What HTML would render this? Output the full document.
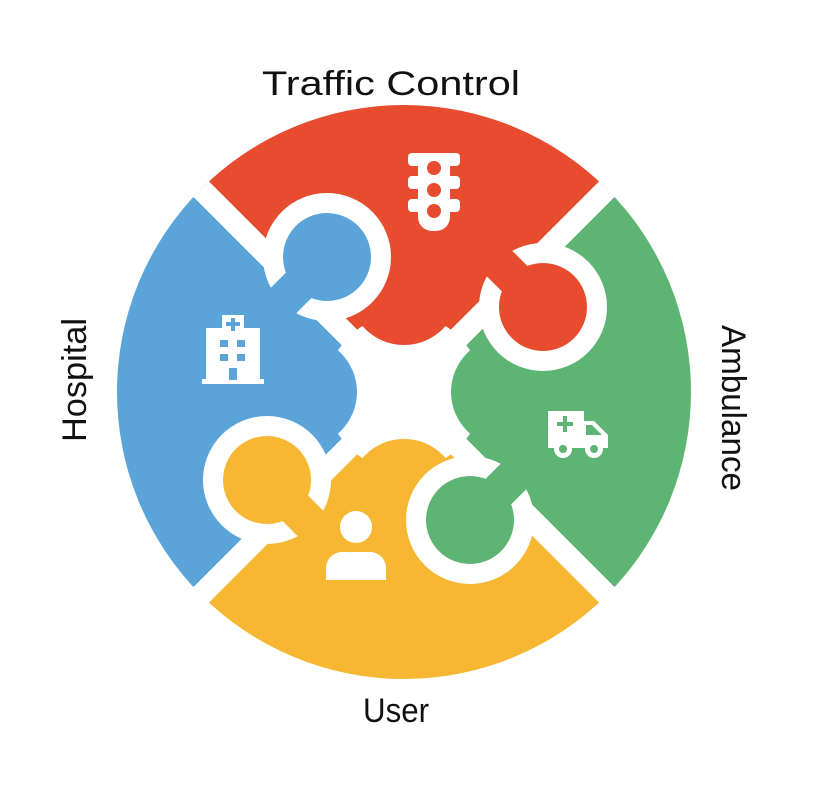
<!DOCTYPE html>
<html><head><style>html,body{margin:0;padding:0;background:#fff}svg{display:block}</style></head>
<body>
<svg width="838" height="787" viewBox="0 0 838 787" xmlns="http://www.w3.org/2000/svg">
<defs><clipPath id="c"><circle cx="404" cy="392" r="287"/></clipPath></defs>
<g clip-path="url(#c)">
  <polygon points="404,392 0,-12 808,-12" fill="#E84C2F"/>
  <polygon points="404,392 808,-12 808,796" fill="#5EB573"/>
  <polygon points="404,392 808,796 0,796" fill="#F7B733"/>
  <polygon points="404,392 0,796 0,-12" fill="#5BA4D9"/>
  <g stroke="#fff" stroke-width="22">
    <line x1="0" y1="-12" x2="808" y2="796"/>
    <line x1="808" y1="-12" x2="0" y2="796"/>
  </g>
  <circle cx="404" cy="392" r="78" fill="#fff"/>
  <circle cx="404" cy="290" r="55" fill="#E84C2F"/>
  <circle cx="302" cy="392" r="55" fill="#5BA4D9"/>
  <circle cx="506" cy="392" r="55" fill="#5EB573"/>
  <circle cx="404" cy="494" r="55" fill="#F7B733"/>
  <!-- white knob surrounds -->
  <g fill="#fff" stroke="#fff" stroke-width="74">
    <circle cx="327" cy="257" r="64" stroke="none"/>
    <line x1="327" y1="257" x2="292" y2="292"/>
    <circle cx="543" cy="307" r="64" stroke="none"/>
    <line x1="543" y1="307" x2="510" y2="274"/>
    <circle cx="470" cy="520" r="64" stroke="none"/>
    <line x1="470" y1="520" x2="505" y2="485"/>
    <circle cx="267" cy="480" r="64" stroke="none"/>
    <line x1="267" y1="480" x2="300" y2="513"/>
  </g>
  <!-- knobs -->
  <g stroke-width="36">
    <circle cx="327" cy="257" r="44" fill="#5BA4D9"/>
    <line x1="327" y1="257" x2="270" y2="314" stroke="#5BA4D9"/>
    <circle cx="543" cy="307" r="44" fill="#E84C2F"/>
    <line x1="543" y1="307" x2="488" y2="252" stroke="#E84C2F"/>
    <circle cx="470" cy="520" r="44" fill="#5EB573"/>
    <line x1="470" y1="520" x2="527" y2="463" stroke="#5EB573"/>
    <circle cx="267" cy="480" r="44" fill="#F7B733"/>
    <line x1="267" y1="480" x2="322" y2="535" stroke="#F7B733"/>
  </g>
</g>
<!-- traffic light -->
<g fill="#fff">
  <rect x="418" y="153" width="32" height="78" rx="14"/>
  <rect x="408" y="153" width="52" height="13" rx="4"/>
  <rect x="408" y="176" width="52" height="13" rx="4"/>
  <rect x="408" y="199" width="52" height="13" rx="4"/>
</g>
<g fill="#E84C2F"><circle cx="434" cy="168" r="7"/><circle cx="434" cy="190" r="7"/><circle cx="434" cy="211" r="7"/></g>
<!-- hospital -->
<g fill="#fff">
  <rect x="222" y="315" width="22" height="20"/>
  <rect x="206" y="328" width="54" height="52"/>
  <rect x="202" y="379" width="62" height="5"/>
</g>
<g fill="#5BA4D9">
  <rect x="231" y="318" width="4" height="13"/><rect x="226" y="322" width="14" height="4"/>
  <rect x="220" y="340" width="8" height="7"/><rect x="237" y="340" width="8" height="7"/>
  <rect x="220" y="354" width="8" height="7"/><rect x="237" y="354" width="8" height="7"/>
  <rect x="229" y="368" width="8" height="12"/>
</g>
<!-- ambulance -->
<g fill="#fff">
  <path d="M548 411 h36 v10 h10 l14 14 v13 h-60 z"/>
  <circle cx="563" cy="449" r="9"/><circle cx="594" cy="449" r="9"/>
</g>
<g fill="#5EB573">
  <rect x="563" y="416" width="4" height="16"/><rect x="557" y="422" width="16" height="4"/>
  <path d="M586 425 h6 l10 10 h-16 z"/>
  <circle cx="563" cy="449" r="4"/><circle cx="594" cy="449" r="4"/>
</g>
<!-- user -->
<g fill="#fff">
  <circle cx="356" cy="527" r="16"/>
  <path d="M326 580 v-12 a16 16 0 0 1 16 -16 h28 a16 16 0 0 1 16 16 v12 z"/>
</g>
<g font-family="'Liberation Sans', sans-serif" font-size="34" fill="#111" font-weight="normal">
  <text x="262" y="95" textLength="258" lengthAdjust="spacingAndGlyphs">Traffic Control</text>
  <text x="363" y="722" textLength="66" lengthAdjust="spacingAndGlyphs">User</text>
  <text transform="translate(86,442) rotate(-90)" textLength="124" lengthAdjust="spacingAndGlyphs">Hospital</text>
  <text transform="translate(722,325) rotate(90)" textLength="166" lengthAdjust="spacingAndGlyphs">Ambulance</text>
</g>
</svg>
</body></html>
